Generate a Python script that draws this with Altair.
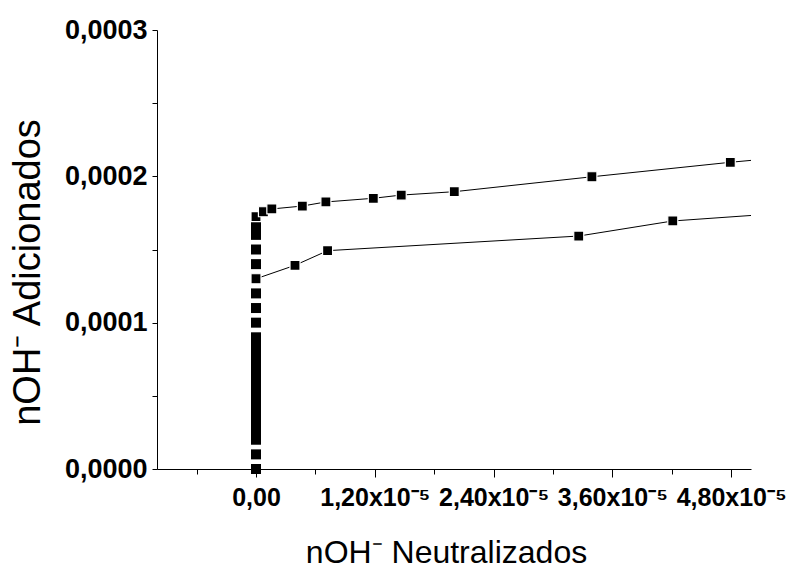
import altair as alt
import pandas as pd

# vertical stack of points at x = 0 (no connecting line)
stack_x = [0.0] * 27
stack_y = [0.0, 1.0e-5, 2.0e-5, 2.5e-5, 3.0e-5, 3.5e-5, 4.0e-5, 4.5e-5, 5.0e-5,
           5.5e-5, 6.0e-5, 6.5e-5, 7.0e-5, 7.5e-5, 8.0e-5, 8.5e-5, 9.0e-5,
           1.0e-4, 1.1e-4, 1.2e-4, 1.4e-4, 1.5e-4, 1.6e-4, 1.62e-4, 1.64e-4,
           1.66e-4, 1.68e-4]

# upper series
upper_x = [0.0, 0.75e-6, 1.6e-6, 4.68e-6, 7.06e-6, 1.185e-5, 1.467e-5, 2.003e-5,
           3.393e-5, 4.791e-5, 6.0e-5]
upper_y = [1.724e-4, 1.758e-4, 1.777e-4, 1.797e-4, 1.825e-4, 1.850e-4, 1.872e-4,
           1.895e-4, 1.997e-4, 2.096e-4, 2.171e-4]

# lower series
lower_x = [0.0, 3.94e-6, 7.23e-6, 3.26e-5, 4.21e-5, 6.0e-5]
lower_y = [1.30e-4, 1.392e-4, 1.492e-4, 1.592e-4, 1.695e-4, 1.780e-4]

x_ticks = [-6e-6, 0.0, 6e-6, 1.2e-5, 1.8e-5, 2.4e-5, 3.0e-5, 3.6e-5, 4.2e-5, 4.8e-5]
y_ticks = [0.0, 5e-5, 1e-4, 1.5e-4, 2e-4, 2.5e-4, 3e-4]

stack_df = pd.DataFrame({"x": stack_x, "y": stack_y})
line_df = pd.concat([
    pd.DataFrame({"x": upper_x, "y": upper_y, "s": "upper"}),
    pd.DataFrame({"x": lower_x, "y": lower_y, "s": "lower"}),
])

FONT = "Liberation Sans"

xscale = alt.Scale(domain=[-1e-5, 5e-5], nice=False, zero=False)
yscale = alt.Scale(domain=[0, 3e-4], nice=False)

xaxis = alt.Axis(
    values=x_ticks,
    title="nOH\u207b Neutralizados",
    titleFont=FONT, titleFontSize=32, titleFontWeight="normal", titleColor="black",
    titlePadding=27, titleX=289,
    labelFont=FONT, labelFontSize=25, labelFontWeight="bold", labelColor="black",
    labelExpr="round(datum.value/6e-6) % 2 != 0 ? '' : (datum.value == 0 ? '0,00' : replace(format(datum.value*1e5, '.2f'), '.', ',') + 'x10\u207b\u2075')",
    labelPadding=8,
    labelOverlap=False,
    labelFlush=False,
    tickSize={"condition": {"test": "round(datum.value/6e-6) % 2 != 0", "value": 5}, "value": 8},
    tickColor="black", domainColor="black", grid=False,
)
yaxis = alt.Axis(
    values=y_ticks,
    title="nOH\u207b Adicionados",
    titleFont=FONT, titleFontSize=38, titleFontWeight="normal", titleColor="black",
    titlePadding=17, titleY=242,
    labelFont=FONT, labelFontSize=27, labelFontWeight="bold", labelColor="black",
    labelExpr="round(datum.value/5e-5) % 2 != 0 ? '' : replace(format(datum.value, '.4f'), '.', ',')",
    labelPadding=5,
    labelOverlap=False,
    labelFlush=False,
    tickSize=5,
    tickColor="black", domainColor="black", grid=False,
)

lines = alt.Chart(line_df).mark_line(color="black", strokeWidth=1, clip=True).encode(
    x=alt.X("x:Q", scale=xscale, axis=xaxis),
    y=alt.Y("y:Q", scale=yscale, axis=yaxis),
    detail="s:N",
)
line_pts = alt.Chart(line_df).mark_point(
    shape="square", filled=True, color="black", size=100, opacity=1,
    stroke="white", strokeWidth=1.2, clip=True,
).encode(x="x:Q", y="y:Q")
stack_pts = alt.Chart(stack_df).mark_point(
    shape="square", filled=True, color="black", size=100, opacity=1,
    strokeWidth=0, clip=False,
).encode(x="x:Q", y="y:Q")

chart = alt.layer(lines, stack_pts, line_pts).properties(
    width=594, height=439,
    background="white",
    autosize=alt.AutoSizeParams(type="none"),
    padding={"left": 157, "top": 30, "right": 38, "bottom": 103},
).configure_view(stroke=None)

chart.save("out.html", embed_options={"renderer": "svg", "actions": False})
